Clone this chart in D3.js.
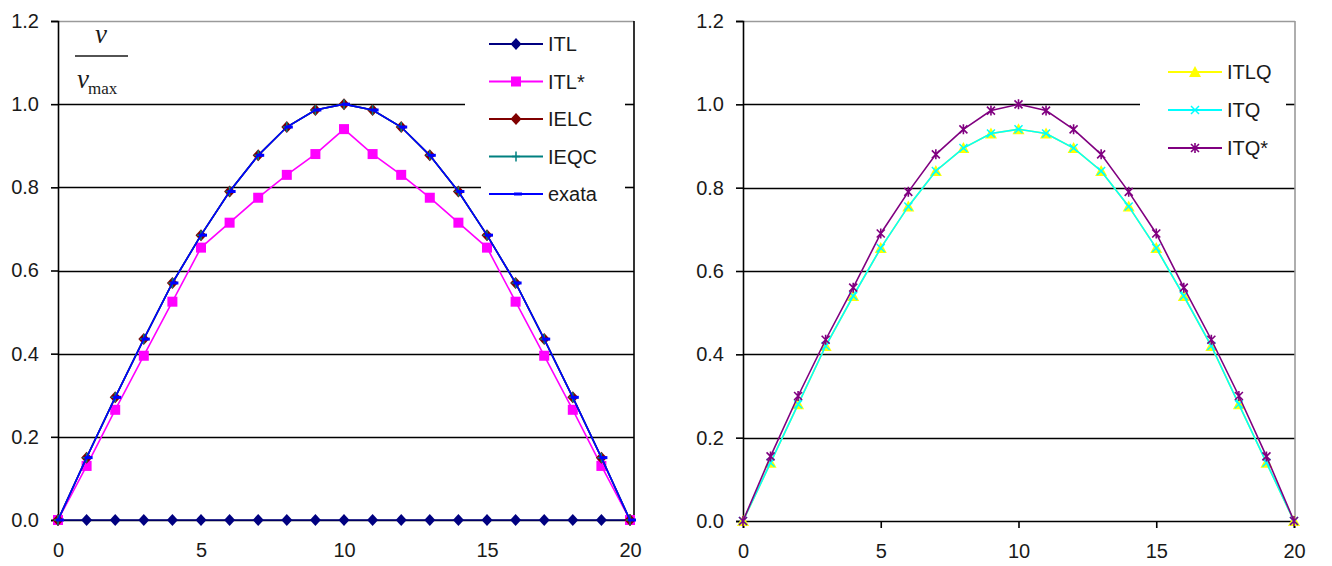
<!DOCTYPE html>
<html>
<head>
<meta charset="utf-8">
<script src="https://cdn.jsdelivr.net/npm/d3@7"></script>
<style>
  html, body { margin: 0; padding: 0; background: #fff; }
  svg { display: block; }
  .sans { font-family: "Liberation Sans", Arial, sans-serif; }
  .serif { font-family: "Liberation Serif", "Times New Roman", serif; }
</style>
</head>
<body>
<svg id="chart" width="1332" height="566"></svg>
<script>
// Node positions along the bar (0..20)
const xs = d3.range(0, 21);

// Left panel series (v / vmax)
const itl      = [0,0,0,0,0,0,0,0,0,0,0,0,0,0,0,0,0,0,0,0,0];
const itlStar  = [0,0.13,0.265,0.395,0.525,0.655,0.715,0.775,0.83,0.88,0.94,0.88,0.83,0.775,0.715,0.655,0.525,0.395,0.265,0.13,0];
const ielc     = [0,0.15,0.295,0.435,0.57,0.685,0.79,0.877,0.945,0.986,1.0,0.986,0.945,0.877,0.79,0.685,0.57,0.435,0.295,0.15,0];
const ieqc     = [0,0.15,0.295,0.435,0.57,0.685,0.79,0.877,0.945,0.986,1.0,0.986,0.945,0.877,0.79,0.685,0.57,0.435,0.295,0.15,0];
const exata    = [0,0.15,0.295,0.435,0.57,0.685,0.79,0.877,0.945,0.986,1.0,0.986,0.945,0.877,0.79,0.685,0.57,0.435,0.295,0.15,0];

// Right panel series
const itlq     = [0,0.14,0.28,0.42,0.54,0.655,0.755,0.84,0.895,0.93,0.94,0.93,0.895,0.84,0.755,0.655,0.54,0.42,0.28,0.14,0];
const itq      = [0,0.14,0.28,0.42,0.54,0.655,0.755,0.84,0.895,0.93,0.94,0.93,0.895,0.84,0.755,0.655,0.54,0.42,0.28,0.14,0];
const itqStar  = [0,0.155,0.30,0.435,0.56,0.69,0.79,0.88,0.94,0.985,1.0,0.985,0.94,0.88,0.79,0.69,0.56,0.435,0.30,0.155,0];

const yTicks = [0, 0.2, 0.4, 0.6, 0.8, 1.0, 1.2];
const xTicks = [0, 5, 10, 15, 20];

const svg = d3.select("#chart");
const ink = "#1a1a1a";

// marker painters
function marker(g, type, color, cx, cy) {
  if (type === "diamond") {
    g.append("path").attr("d", `M${cx},${cy-6}L${cx+5.5},${cy}L${cx},${cy+6}L${cx-5.5},${cy}Z`)
      .attr("fill", color);
  } else if (type === "square") {
    g.append("rect").attr("x", cx - 5).attr("y", cy - 5).attr("width", 10).attr("height", 10).attr("fill", color);
  } else if (type === "plus") {
    g.append("path").attr("d", `M${cx-4},${cy}H${cx+4}M${cx},${cy-5}V${cy+5}`)
      .attr("stroke", color).attr("stroke-width", 1.5).attr("fill", "none");
  } else if (type === "dash") {
    g.append("rect").attr("x", cx - 2).attr("y", cy - 1.5).attr("width", 8).attr("height", 3).attr("fill", color);
  } else if (type === "triangle") {
    g.append("path").attr("d", `M${cx},${cy-6}L${cx+6},${cy+5}L${cx-6},${cy+5}Z`).attr("fill", color);
  } else if (type === "x") {
    g.append("path").attr("d", `M${cx-4},${cy-4}L${cx+4},${cy+4}M${cx+4},${cy-4}L${cx-4},${cy+4}`)
      .attr("stroke", color).attr("stroke-width", 1.5).attr("fill", "none");
  } else if (type === "star") {
    g.append("path").attr("d", `M${cx-4},${cy-4}L${cx+4},${cy+4}M${cx+4},${cy-4}L${cx-4},${cy+4}M${cx},${cy-5}V${cy+5}`)
      .attr("stroke", color).attr("stroke-width", 1.6).attr("fill", "none");
  }
}

function drawPanel(opt) {
  const x = d3.scaleLinear().domain([0, 20]).range([opt.x0, opt.x1]);
  const y = d3.scaleLinear().domain([0, 1.2]).range([opt.y0, opt.y1]);
  const g = svg.append("g");

  // horizontal gridlines (shortened near the legend)
  [0.2, 0.4, 0.6, 0.8, 1.0].forEach(v => {
    const end = opt.gridEnd[v] !== undefined ? opt.gridEnd[v] : opt.x1 + opt.rightPad;
    g.append("line").attr("x1", opt.x0).attr("x2", end)
      .attr("y1", Math.round(y(v)) + 0.5).attr("y2", Math.round(y(v)) + 0.5)
      .attr("stroke", "#000").attr("stroke-width", 1.6);
  });
  // ticks on the right border
  opt.rightTicks.forEach(v => {
    g.append("line").attr("x1", opt.x1 + opt.rightPad - 9).attr("x2", opt.x1 + opt.rightPad)
      .attr("y1", Math.round(y(v)) + 0.5).attr("y2", Math.round(y(v)) + 0.5)
      .attr("stroke", "#000").attr("stroke-width", 1.6);
  });

  // frame: top and right
  g.append("line").attr("x1", opt.x0).attr("x2", opt.x1 + opt.rightPad)
    .attr("y1", opt.y1 + 0.5).attr("y2", opt.y1 + 0.5).attr("stroke", "#9a9a9a").attr("stroke-width", 1.6);
  g.append("line").attr("x1", opt.x1 + opt.rightPad).attr("x2", opt.x1 + opt.rightPad)
    .attr("y1", opt.y1).attr("y2", opt.y0).attr("stroke", opt.rightColor).attr("stroke-width", 1.6);

  // y axis
  const ya = g.append("g").attr("transform", `translate(${opt.x0},0)`)
    .call(d3.axisLeft(y).tickValues(yTicks).tickFormat(d3.format(".1f")).tickSize(7).tickPadding(12));
  ya.select(".domain").attr("stroke", "#000").attr("stroke-width", 1.6);
  ya.selectAll(".tick line").attr("stroke", "#000").attr("stroke-width", 1.6);
  ya.selectAll("text").attr("font-size", 20).attr("class", "sans").attr("fill", ink);

  // x axis
  const xa = g.append("g").attr("transform", `translate(0,${opt.y0})`)
    .call(d3.axisBottom(x).tickValues(xTicks).tickFormat(d3.format("d")).tickSize(opt.xTickSize).tickPadding(23 - opt.xTickSize));
  xa.select(".domain").attr("stroke", "#000").attr("stroke-width", 1.6);
  xa.selectAll(".tick line").attr("stroke", "#000").attr("stroke-width", 1.6);
  xa.selectAll("text").attr("font-size", 20).attr("class", "sans").attr("fill", ink);

  // series
  const line = d3.line().x((d, i) => x(xs[i])).y(d => y(d));
  opt.series.forEach(s => {
    g.append("path").datum(s.values).attr("d", line)
      .attr("fill", "none").attr("stroke", s.color).attr("stroke-width", 1.6);
    const mg = g.append("g");
    s.values.forEach((v, i) => marker(mg, s.marker, s.mcolor || s.color, x(xs[i]), y(v)));
  });

  // legend
  const lg = g.append("g");
  opt.series.forEach((s, i) => {
    const ly = opt.legend.y + i * opt.legend.step;
    lg.append("line").attr("x1", opt.legend.x).attr("x2", opt.legend.x + 54)
      .attr("y1", ly).attr("y2", ly).attr("stroke", s.color).attr("stroke-width", 1.8);
    marker(lg, s.marker, s.mcolor || s.color, opt.legend.x + 27, ly);
    lg.append("text").attr("class", "sans").attr("x", opt.legend.x + 59).attr("y", ly + 7)
      .attr("font-size", 20).attr("fill", ink).text(s.name);
  });
  return { x, y, g };
}

// Left panel
const left = drawPanel({
  x0: 58, x1: 630, y0: 520, y1: 21, rightPad: 4, rightColor: "#000",
  gridEnd: { 1.0: 465, 0.8: 481 }, rightTicks: [1.0, 0.8], xTickSize: 0,
  series: [
    { name: "ITL",   values: itl,     color: "#000080", marker: "diamond" },
    { name: "ITL*",  values: itlStar, color: "#FF00FF", marker: "square" },
    { name: "IELC",  values: ielc,    color: "#800000", marker: "diamond" },
    { name: "IEQC",  values: ieqc,    color: "#008080", marker: "plus" },
    { name: "exata", values: exata,   color: "#0000FF", marker: "dash" }
  ],
  legend: { x: 489, y: 44, step: 37.5 }
});

// v / vmax label
const lab = left.g.append("g");
lab.append("text").attr("class", "serif").attr("x", 101).attr("y", 43).attr("text-anchor", "middle")
  .attr("font-style", "italic").attr("font-size", 27).attr("fill", ink).text("v");
lab.append("line").attr("x1", 75).attr("x2", 128).attr("y1", 56).attr("y2", 56)
  .attr("stroke", ink).attr("stroke-width", 1.6);
const vm = lab.append("text").attr("class", "serif").attr("x", 77).attr("y", 88).attr("fill", ink);
vm.append("tspan").attr("font-style", "italic").attr("font-size", 27).text("v");
vm.append("tspan").attr("font-size", 17).attr("dy", 6).attr("dx", -1).text("max");

// Right panel
drawPanel({
  x0: 743, x1: 1294, y0: 521, y1: 21, rightPad: 1, rightColor: "#9a9a9a",
  gridEnd: { 1.0: 1140 }, rightTicks: [1.0], xTickSize: 7,
  series: [
    { name: "ITLQ", values: itlq,    color: "#FFFF00", marker: "triangle" },
    { name: "ITQ",  values: itq,     color: "#00FFFF", marker: "x" },
    { name: "ITQ*", values: itqStar, color: "#800080", marker: "star" }
  ],
  legend: { x: 1168, y: 72, step: 38 }
});
</script>
</body>
</html>
